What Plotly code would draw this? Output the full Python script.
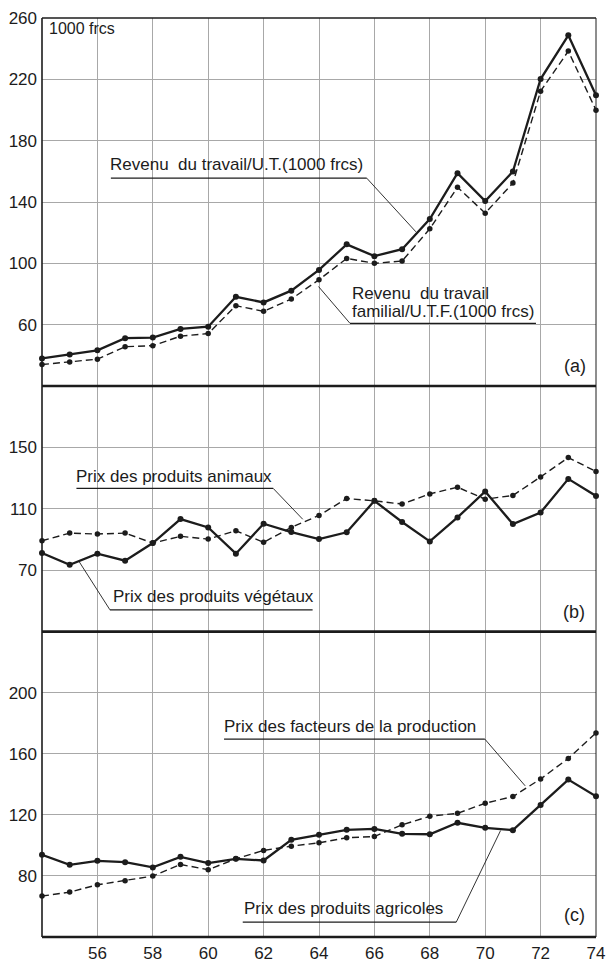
import plotly.graph_objects as go

# ---------------- data ----------------
years = [54, 55, 56, 57, 58, 59, 60, 61, 62, 63, 64, 65, 66, 67, 68, 69, 70, 71, 72, 73, 74]
x_tickvals = [56, 58, 60, 62, 64, 66, 68, 70, 72, 74]
x_ticktext = ["56", "58", "60", "62", "64", "66", "68", "70", "72", "74"]

# (a) Revenu du travail (1000 frcs)
revenu_ut = [38, 40.5, 43.3, 51.2, 51.6, 57.2, 58.7, 78.2, 74.5, 82.2, 95.7,
             112.4, 104.7, 109.2, 128.9, 158.8, 140.6, 159.9, 220.2, 248.7, 209.6]
revenu_utf = [34, 35.6, 37.5, 45.6, 46.3, 52.5, 54.2, 72.4, 68.7, 76.7, 89.3,
              103.2, 100.0, 101.5, 122.5, 149.6, 132.7, 152.4, 212.3, 238.4, 199.9]
a_ticks = [60, 100, 140, 180, 220, 260]

# (b) Prix des produits
prix_vegetaux = [81.2, 73.6, 80.8, 76.2, 87.7, 103.3, 97.9, 80.8, 100.3, 94.9, 90.3,
                 94.7, 115.2, 101.4, 88.8, 104.4, 121.3, 100.1, 107.6, 129.5, 118.4]
prix_animaux = [89.2, 94.2, 93.6, 94.2, 87.7, 92.1, 90.3, 95.7, 88.2, 97.9, 105.7,
                116.7, 115.2, 113.1, 119.7, 124.1, 116.3, 118.7, 130.8, 143.4, 134.3]
b_ticks = [70, 110, 150]

# (c) Prix agricoles / facteurs de production
prix_agricoles = [93.9, 87.3, 89.9, 89.0, 85.6, 92.5, 88.4, 91.2, 90.1, 103.7, 106.9,
                  110.2, 110.8, 107.6, 107.3, 114.8, 111.5, 110.0, 126.5, 143.1, 132.2]
prix_facteurs = [66.8, 69.4, 74.2, 76.9, 79.9, 87.5, 84.1, 91.2, 96.7, 99.5, 101.7,
                 105.0, 105.8, 113.5, 119.1, 121.0, 127.6, 132.0, 143.5, 157.0, 173.6]
c_ticks = [80, 120, 160, 200]

# ---------------- layout geometry ----------------
W, H = 608, 966
ML, MR, MT, MB = 42, 3, 18, 24
PW, PH = W - ML - MR, H - MT - MB
y_a_top, y_ab, y_bc, y_c_bot = 18, 388, 635, 942


def fy(py):
    return (H - MB - py) / PH


def fx(px):
    return (px - ML) / PW


INK = "#1c1c1c"
GRID = "#a8a8a8"
FONT = "Liberation Sans, Arial, Helvetica, sans-serif"

fig = go.Figure()


def solid(y, xa, ya):
    fig.add_trace(go.Scatter(x=years, y=y, xaxis=xa, yaxis=ya, mode="lines+markers",
                             line=dict(color=INK, width=2.3),
                             marker=dict(size=6, color=INK),
                             cliponaxis=False, showlegend=False, hoverinfo="skip"))


def dashed(y, xa, ya):
    fig.add_trace(go.Scatter(x=years, y=y, xaxis=xa, yaxis=ya, mode="lines+markers",
                             line=dict(color=INK, width=1.4, dash="7px,4px"),
                             marker=dict(size=5.5, color=INK),
                             cliponaxis=False, showlegend=False, hoverinfo="skip"))


# panel (a) -> x3/y3, panel (b) -> x2/y2, panel (c) -> x/y
dashed(revenu_utf, "x3", "y3")
solid(revenu_ut, "x3", "y3")
dashed(prix_animaux, "x2", "y2")
solid(prix_vegetaux, "x2", "y2")
dashed(prix_facteurs, "x", "y")
solid(prix_agricoles, "x", "y")

common_x = dict(range=[54, 74], tickvals=x_tickvals, ticktext=x_ticktext,
                showgrid=True, gridcolor=GRID, gridwidth=1, zeroline=False,
                showline=False, ticks="", fixedrange=True)
common_y = dict(showgrid=True, gridcolor=GRID, gridwidth=1, zeroline=False,
                showline=False, ticks="", ticklabelstandoff=4, fixedrange=True,
                tickfont=dict(size=17, color=INK, family=FONT))

fig.update_layout(
    width=W, height=H,
    margin=dict(l=ML, r=MR, t=MT, b=MB),
    paper_bgcolor="white", plot_bgcolor="white",
    font=dict(family=FONT, color=INK, size=17),
    showlegend=False,
    hovermode=False,
    xaxis=dict(**common_x, anchor="y", ticklabelstandoff=4, ticklabeloverflow="allow",
               tickfont=dict(size=17, color=INK, family=FONT)),
    xaxis2=dict(**common_x, anchor="y2", matches="x", showticklabels=False),
    xaxis3=dict(**common_x, anchor="y3", matches="x", showticklabels=False),
    yaxis=dict(**common_y, domain=[0, fy(y_bc)], range=[40, 240], tickvals=c_ticks),
    yaxis2=dict(**common_y, domain=[fy(y_bc), fy(y_ab)], range=[30, 190], tickvals=b_ticks),
    yaxis3=dict(**common_y, domain=[fy(y_ab), 1], range=[20, 260], tickvals=a_ticks),
)

shapes = []


def pline(x0, y0, x1, y1, w=1.0):
    shapes.append(dict(type="line", xref="paper", yref="paper",
                       x0=fx(x0), y0=fy(y0), x1=fx(x1), y1=fy(y1),
                       line=dict(color=INK, width=w)))


# frame and separators
shapes.append(dict(type="line", xref="paper", yref="paper", x0=0, x1=0, y0=0, y1=1,
                   line=dict(color=INK, width=1.6)))
shapes.append(dict(type="line", xref="paper", yref="paper", x0=1, x1=1, y0=0, y1=1,
                   line=dict(color=INK, width=1.0)))
shapes.append(dict(type="line", xref="paper", yref="paper", x0=0, x1=1, y0=1, y1=1,
                   line=dict(color=INK, width=1.6)))
for py in (y_ab, y_bc, y_c_bot):
    shapes.append(dict(type="line", xref="paper", yref="paper", x0=0, x1=1,
                       y0=fy(py), y1=fy(py), line=dict(color=INK, width=2.6)))

# underlines and leader lines of labels
pline(112, 179, 372, 179, 1.2); pline(372, 179, 422, 233, 0.9)
pline(355, 325, 544, 325, 1.2); pline(355, 325, 323, 288, 0.9)
pline(77, 491, 277, 491, 1.2); pline(277, 491, 307, 522, 0.9)
pline(111, 613, 317, 613, 1.2); pline(111, 613, 80, 565, 0.9)
pline(227, 743, 492, 743, 1.2); pline(492, 743, 533, 790, 0.9)
pline(246, 927, 463, 927, 1.2); pline(463, 927, 508, 835, 0.9)

fig.update_layout(shapes=shapes)


def label(text, px, py, anchor="left", size=17):
    fig.add_annotation(text=text, xref="paper", yref="paper", x=fx(px), y=fy(py),
                       xanchor=anchor, yanchor="middle", showarrow=False,
                       font=dict(size=size, color=INK, family=FONT),
                       bgcolor="rgba(0,0,0,0)", borderpad=0)


label("1000 frcs", 48, 29, size=16)
label("Revenu  du travail/U.T.(1000 frcs)", 110, 165)
label("Revenu  du travail", 356, 295)
label("familial/U.T.F.(1000 frcs)", 356, 313)
label("Prix des produits animaux", 76, 479)
label("Prix des produits végétaux", 113, 600)
label("Prix des facteurs de la production", 226, 730)
label("Prix des produits agricoles", 246, 913)
label("(a)", 584, 368, anchor="center", size=18)
label("(b)", 583, 615, anchor="center", size=18)
label("(c)", 583, 920, anchor="center", size=18)

fig.write_html(
    "out.html",
    config={"displayModeBar": False, "staticPlot": True},
    post_script="document.body.style.margin='0';document.body.style.padding='0';"
                "document.body.style.overflow='hidden';"
                "document.documentElement.style.overflow='hidden';",
)
